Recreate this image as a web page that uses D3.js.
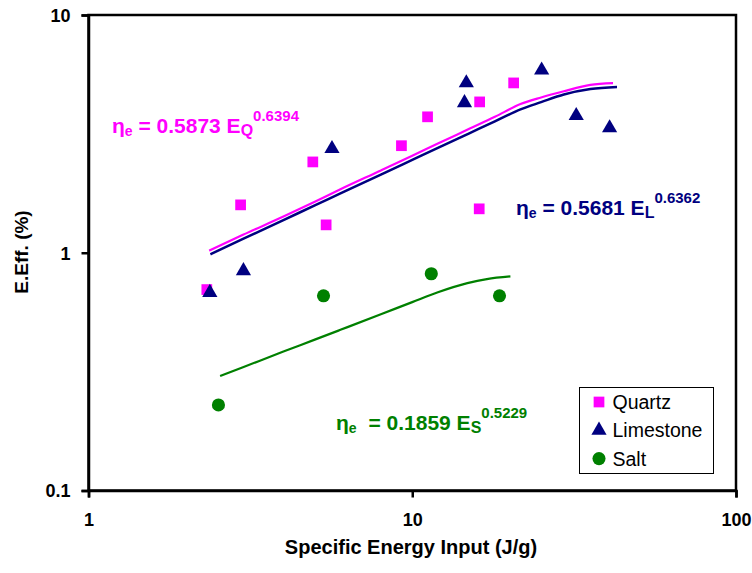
<!DOCTYPE html>
<html><head><meta charset="utf-8">
<script src="https://cdn.jsdelivr.net/npm/d3@7"></script>
<style>body{margin:0;background:#fff}svg{display:block}text{font-family:Arial,"Liberation Sans",sans-serif}</style>
</head><body><svg id="c" width="752" height="573"></svg>
<script>
// ---- data ----
const quartzX = [2.32, 2.95, 4.93, 5.42, 9.26, 11.15, 16.15, 16.1, 20.57];
const quartzY = [0.70, 1.59, 2.41, 1.31, 2.82, 3.73, 4.31, 1.53, 5.18];
const limeX = [2.37, 3.01, 5.65, 14.69, 14.5, 25.1, 32.1, 40.7];
const limeY = [0.68, 0.84, 2.74, 5.18, 4.27, 5.86, 3.77, 3.35];
const saltX = [2.52, 5.32, 11.45, 18.6];
const saltY = [0.229, 0.659, 0.816, 0.659];
const quartzTrendX = [2.36, 3, 4, 5, 6, 8, 10, 12, 15, 18, 21.6, 25, 29.4, 35.5, 41.7];
const quartzTrendY = [1.02, 1.19, 1.42, 1.64, 1.85, 2.22, 2.56, 2.88, 3.32, 3.73, 4.22, 4.5, 4.78, 5.08, 5.17];
const limeTrendX = [2.38, 3, 4, 5, 6, 8, 10, 12, 15, 18, 21.6, 25, 29.4, 35.5, 42.9];
const limeTrendY = [0.985, 1.143, 1.372, 1.582, 1.776, 2.133, 2.458, 2.76, 3.18, 3.57, 4.01, 4.3, 4.63, 4.88, 4.98];
const saltTrendX = [2.55, 3, 4, 5, 6, 8, 10, 12, 14.8, 17, 20.1];
const saltTrendY = [0.303, 0.330, 0.384, 0.431, 0.474, 0.551, 0.620, 0.682, 0.745, 0.775, 0.795];
const xTicks = [1, 10, 100];
const yTicks = [0.1, 1, 10];
const seriesNames = ["Quartz", "Limestone", "Salt"];
const colors = {Quartz: "#FF00FF", Limestone: "#000080", Salt: "#008000"};

// ---- chart ----
const svg = d3.select("#c");
const L = 88.5, R = 736, T = 15, B = 490.5;
const x = d3.scaleLog().domain([1, 100]).range([L, R]);
const y = d3.scaleLog().domain([0.1, 10]).range([B, T]);

svg.append("rect").attr("x", L).attr("y", T).attr("width", R - L).attr("height", B - T)
  .attr("fill", "none").attr("stroke", "#000").attr("stroke-width", 2.5);

const xAxis = svg.append("g").attr("transform", `translate(0,${B})`)
  .call(d3.axisBottom(x).tickValues(xTicks).tickFormat(d3.format("")).tickSize(7).tickPadding(16));
const yAxis = svg.append("g").attr("transform", `translate(${L},0)`)
  .call(d3.axisLeft(y).tickValues(yTicks).tickFormat(d => d < 1 ? "0.1" : String(d)).tickSize(7).tickPadding(11));
[xAxis, yAxis].forEach(a => {
  a.select(".domain").attr("stroke-width", 2.5);
  a.selectAll(".tick line").attr("stroke-width", 2.5);
  a.selectAll("text").attr("font-size", 18).attr("font-weight", "bold")
    .attr("font-family", "Arial, 'Liberation Sans', sans-serif").attr("fill", "#000");
});
yAxis.selectAll("text").attr("dy", "0.36em");

svg.append("text").attr("x", 411).attr("y", 554).attr("text-anchor", "middle")
  .attr("font-size", 20).attr("font-weight", "bold").text("Specific Energy Input (J/g)");
svg.append("text").attr("transform", "translate(28,252) rotate(-90)").attr("text-anchor", "middle")
  .attr("font-size", 19).attr("font-weight", "bold").text("E.Eff. (%)");

const line = d3.line().x(d => x(d[0])).y(d => y(d[1]));
const trends = [
  {xs: quartzTrendX, ys: quartzTrendY, c: colors.Quartz, w: 2.2},
  {xs: limeTrendX, ys: limeTrendY, c: colors.Limestone, w: 2.5},
  {xs: saltTrendX, ys: saltTrendY, c: colors.Salt, w: 2.2}
];
[trends[1], trends[0], trends[2]].forEach(t => {
  svg.append("path").datum(t.xs.map((v, i) => [v, t.ys[i]]))
    .attr("d", line.curve(d3.curveMonotoneX)).attr("fill", "none").attr("stroke", t.c).attr("stroke-width", t.w);
});

const sq = d3.symbol().type(d3.symbolSquare).size(115);
const tri = d3.symbol().type(d3.symbolTriangle).size(100);
const cir = d3.symbol().type(d3.symbolCircle).size(135);
function marks(xs, ys, sym, c) {
  svg.append("g").selectAll("path").data(xs.map((v, i) => [v, ys[i]])).join("path")
    .attr("transform", d => `translate(${x(d[0])},${y(d[1])})`)
    .attr("d", sym).attr("fill", c);
}
marks(quartzX, quartzY, sq, colors.Quartz);
marks(limeX, limeY, tri, colors.Limestone);
marks(saltX, saltY, cir, colors.Salt);

function eq(x0, yb, coef, sub, exp, c, gap) {
  const t = svg.append("text").attr("x", x0).attr("y", yb).attr("fill", c)
    .attr("font-weight", "bold").attr("font-size", 21);
  t.append("tspan").text("η");
  t.append("tspan").attr("font-size", 14).attr("dy", 3).text("e");
  t.append("tspan").attr("dy", -3).attr("dx", gap).text(" = " + coef + " E");
  t.append("tspan").attr("font-size", 16).attr("dy", 3).text(sub);
  t.append("tspan").attr("font-size", 15).attr("dy", -15).text(exp);
}
eq(112, 133, "0.5873", "Q", "0.6394", colors.Quartz, 0);
eq(516, 215, "0.5681", "L", "0.6362", colors.Limestone, 0);
eq(336, 430, "0.1859", "S", "0.5229", colors.Salt, 6);

const lg = svg.append("g");
lg.append("rect").attr("x", 579.5).attr("y", 387.5).attr("width", 134).attr("height", 86)
  .attr("fill", "#fff").attr("stroke", "#000").attr("stroke-width", 1);
const syms = [sq, tri, cir];
seriesNames.forEach((n, i) => {
  const cy = 402 + i * 28.3;
  lg.append("path").attr("transform", `translate(599,${cy})`).attr("d", syms[i]).attr("fill", colors[n]);
  lg.append("text").attr("x", 612.5).attr("y", cy + 7).attr("font-size", 19.5).attr("fill", "#000").text(n);
});
</script></body></html>
